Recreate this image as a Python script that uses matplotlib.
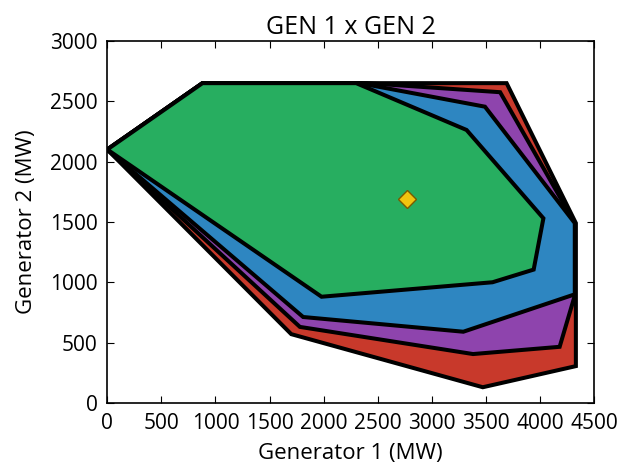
import numpy as np
import matplotlib
matplotlib.use("Agg")
import matplotlib.pyplot as plt

plt.rcParams['font.family'] = ['Open Sans', 'DejaVu Sans']

# Regioes de operacao (GEN 1 x GEN 2), da maior para a menor
red_x = [0, 880, 3690, 4330, 4330, 3470, 1700]
red_y = [2100, 2650, 2650, 1490, 305, 130, 570]

purple_x = [0, 880, 2400, 3630, 4320, 4320, 4180, 3380, 1780]
purple_y = [2100, 2650, 2650, 2575, 1490, 890, 465, 405, 630]

blue_x = [0, 880, 2330, 3490, 4320, 4320, 3290, 1810]
blue_y = [2100, 2650, 2650, 2455, 1490, 900, 590, 712]

green_x = [0, 880, 2300, 3320, 4030, 3940, 3560, 1980]
green_y = [2100, 2650, 2650, 2262, 1530, 1105, 1000, 880]

# Ponto de operacao
point_x = [2770]
point_y = [1690]

regions = [
    (red_x, red_y, "#c8392b"),
    (purple_x, purple_y, "#8e44ad"),
    (blue_x, blue_y, "#2e86c1"),
    (green_x, green_y, "#27ae60"),
]

fig = plt.figure(figsize=(6.2, 4.65), dpi=100)
ax = fig.add_axes([0.173, 0.1335, 0.7855, 0.7785])

for xs, ys, color in regions:
    ax.fill(xs, ys, facecolor=color, edgecolor="black", linewidth=2.9,
            joinstyle="miter")

ax.plot(point_x, point_y, marker="D", markersize=9, color="#f1c40f",
        markeredgecolor="#7a5a00", markeredgewidth=1, linestyle="none")

ax.set_xlim(0, 4500)
ax.set_ylim(0, 3000)
ax.set_xticks(np.arange(0, 4501, 500))
ax.set_yticks(np.arange(0, 3001, 500))
ax.tick_params(direction="in", top=True, right=True, length=5,
               labelsize=15, pad=7)
for s in ax.spines.values():
    s.set_linewidth(1.2)

ax.set_title("GEN 1 x GEN 2", fontsize=18, pad=5)
ax.set_xlabel("Generator 1 (MW)", fontsize=16, labelpad=7)
ax.set_ylabel("Generator 2 (MW)", fontsize=16, labelpad=9)

fig.savefig("out.png", dpi=100)
